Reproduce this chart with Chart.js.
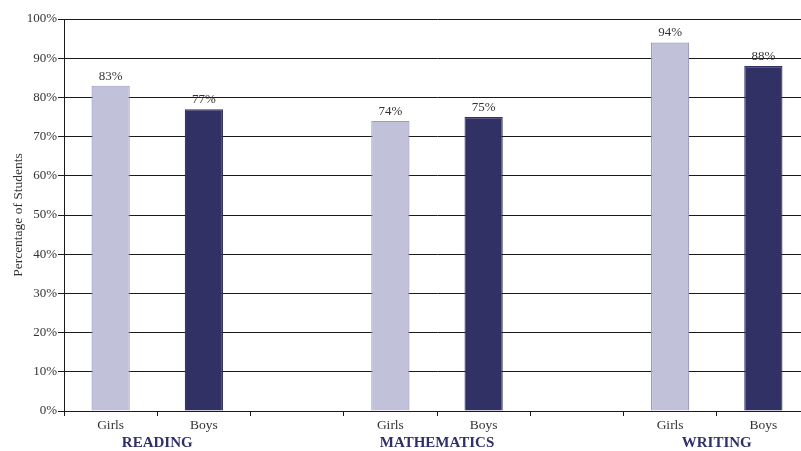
<!DOCTYPE html>
<html>
<head>
<meta charset="utf-8">
<script src="https://cdn.jsdelivr.net/npm/chart.js@4/dist/chart.umd.min.js"></script>
<style>
  html, body { margin: 0; padding: 0; background: #ffffff; overflow: hidden; }
  #wrap { width: 810px; height: 451px; }
</style>
</head>
<body>
<div id="wrap"><canvas id="c" width="810" height="451"></canvas></div>
<script>
// Subjects and the share of students per group (percent)
const subjects = ['READING', 'MATHEMATICS', 'WRITING'];
const groups = ['Girls', 'Boys'];
const girls = [83, 74, 94];
const boys = [77, 75, 88];
const yTickValues = [0, 10, 20, 30, 40, 50, 60, 70, 80, 90, 100];

const GIRLS_FILL = '#c1c1da';
const GIRLS_EDGE = '#9a9ac7';
const BOYS_FILL = '#313166';
const LABEL_NAVY = '#2f3069';
const SERIF = '"Liberation Serif", "DejaVu Serif", serif';

// Lay the bars out as Girls, Boys, gap, Girls, Boys, gap, ...
const labels = [];
const values = [];
const fills = [];
const edges = [];
const slotOfSubject = [];
subjects.forEach((s, i) => {
  if (i > 0) { labels.push(''); values.push(null); fills.push('rgba(0,0,0,0)'); edges.push('rgba(0,0,0,0)'); }
  slotOfSubject.push(labels.length);
  labels.push(groups[0]); values.push(girls[i]); fills.push(GIRLS_FILL); edges.push(GIRLS_EDGE);
  labels.push(groups[1]); values.push(boys[i]); fills.push(BOYS_FILL); edges.push(BOYS_FILL);
});

// Percent values above each bar, subject names below each pair
const annotations = {
  id: 'annotations',
  afterDatasetsDraw(chart) {
    const ctx = chart.ctx;
    const meta = chart.getDatasetMeta(0);
    ctx.save();
    ctx.font = '13px ' + SERIF;
    ctx.fillStyle = '#333333';
    ctx.textAlign = 'center';
    ctx.textBaseline = 'bottom';
    meta.data.forEach((bar, i) => {
      const v = values[i];
      if (v === null) return;
      ctx.fillText(v + '%', bar.x, bar.y - 3);
    });
    const xs = chart.scales.x;
    ctx.font = 'bold 15px ' + SERIF;
    ctx.fillStyle = LABEL_NAVY;
    ctx.textBaseline = 'middle';
    subjects.forEach((s, i) => {
      const a = xs.getPixelForValue(slotOfSubject[i]);
      const b = xs.getPixelForValue(slotOfSubject[i] + 1);
      ctx.fillText(s, (a + b) / 2, 443);
    });
    ctx.restore();
  }
};

new Chart(document.getElementById('c'), {
  type: 'bar',
  data: {
    labels: labels,
    datasets: [{
      data: values,
      backgroundColor: fills,
      borderColor: edges,
      borderWidth: 1.2,
      categoryPercentage: 1,
      barPercentage: 0.41,
      skipNull: true
    }]
  },
  options: {
    responsive: false,
    animation: false,
    events: [],
    layout: { padding: { top: 19, right: 0, left: 0, bottom: 0 } },
    plugins: { legend: { display: false }, tooltip: { enabled: false } },
    scales: {
      x: {
        offset: true,
        grid: {
          offset: true,
          drawOnChartArea: false,
          drawTicks: true,
          tickLength: 5,
          color: '#1a1a1a',
          lineWidth: 1
        },
        border: { display: true, color: '#1a1a1a', width: 1 },
        ticks: {
          font: { family: SERIF, size: 13.5 },
          color: '#333333',
          padding: 1,
          maxRotation: 0,
          autoSkip: false
        },
        afterFit(scale) { scale.height = 40; }
      },
      y: {
        min: 0,
        max: 100,
        afterBuildTicks(scale) { scale.ticks = yTickValues.map(v => ({ value: v })); },
        grid: {
          color: '#1a1a1a',
          lineWidth: 1,
          drawTicks: true,
          tickLength: 6
        },
        border: { display: true, color: '#1a1a1a', width: 1 },
        ticks: {
          font: { family: SERIF, size: 13 },
          color: '#333333',
          padding: 1,
          callback: v => v + '%'
        },
        title: {
          display: true,
          text: 'Percentage of Students',
          font: { family: SERIF, size: 13.5 },
          color: '#333333',
          padding: { top: 10, bottom: 0 }
        },
        afterFit(scale) { scale.width = 64; }
      }
    }
  },
  plugins: [annotations]
});
</script>
</body>
</html>
